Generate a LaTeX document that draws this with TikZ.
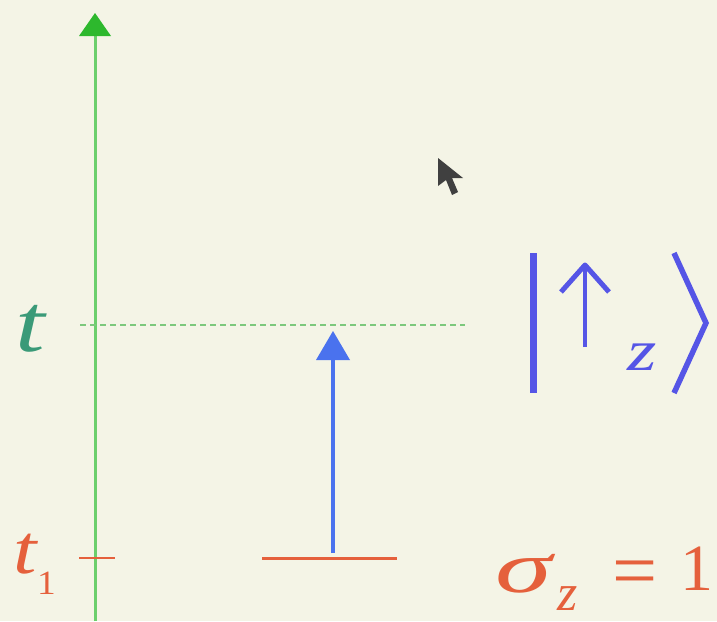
\documentclass[tikz,border=0pt]{standalone}
\usepackage{fontspec}
\setmainfont{Liberation Serif}
\definecolor{bg}{HTML}{F4F4E6}
\definecolor{axisgreen}{HTML}{6CCF6C}
\definecolor{headgreen}{HTML}{2DB82D}
\definecolor{dashgreen}{HTML}{7CC87C}
\definecolor{tgreen}{HTML}{3A9A78}
\definecolor{redor}{HTML}{E5603C}
\definecolor{arrblue}{HTML}{4A72EE}
\definecolor{ketblue}{HTML}{5555E6}
\tikzset{
  lbl/.style={inner sep=0pt, anchor=base west},
}
\begin{document}
\begin{tikzpicture}[x=1pt,y=-1pt]
\fill[bg] (0,0) rectangle (717,621);
\useasboundingbox (0,0) rectangle (717,621);
% time axis
\coordinate (axbot) at (95,621);
\coordinate (axtop) at (95,35);
\draw[axisgreen, line width=3pt] (axbot) -- (axtop);
\fill[headgreen] (95,13) -- (111,36) -- (79,36) -- cycle;
% dashed time line
\coordinate (dl) at (80,325);
\coordinate (dr) at (465,325);
\draw[dashgreen, line width=1.6pt, dash pattern=on 6pt off 4pt] (dl) -- (dr);
% labels t and t1
\node[lbl, text=tgreen, font=\fontsize{82}{82}\selectfont\itshape] (tl) at (15,351) {\scalebox{1.3}[1]{t}};
\node[lbl, text=redor, font=\fontsize{70}{70}\selectfont\itshape] (t1) at (13,573) {\scalebox{1.2}[1]{t}};
\node[lbl, text=redor, font=\fontsize{34}{34}\selectfont] (t1s) at (37,594) {\scalebox{1.1}[1]{1}};
% tick
\coordinate (tka) at (79,558);
\coordinate (tkb) at (115,558);
\draw[redor, line width=2.4pt] (tka) -- (tkb);
% level line
\coordinate (lva) at (262,558);
\coordinate (lvb) at (397,558);
\draw[redor, line width=3pt] (lva) -- (lvb);
% blue arrow
\coordinate (ba) at (333,553);
\coordinate (bb) at (333,358);
\draw[arrblue, line width=3.5pt] (ba) -- (bb);
\fill[arrblue] (333,331) -- (350,360) -- (316,360) -- cycle;
% ket
\draw[ketblue, line width=7pt] (533,253) -- (533,393);
\draw[ketblue, line width=5.5pt, line join=miter] (674,253) -- (706,323) -- (674,393);
\draw[ketblue, line width=4.5pt] (585,347) -- (585,268);
\draw[ketblue, line width=5pt, line join=round] (561,292) -- (585,265) -- (609,292);
\node[lbl, text=ketblue, font=\fontsize{58}{58}\selectfont\itshape] (kz) at (627,370) {\scalebox{1.3}[1]{z}};
% sigma_z = 1
\node[lbl, text=redor, font=\fontsize{74}{74}\selectfont\itshape] (sig) at (495,592) {\scalebox{1.55}[1]{σ}};
\node[lbl, text=redor, font=\fontsize{52}{52}\selectfont\itshape] (sz) at (557,610) {z};
\node[lbl, text=redor, font=\fontsize{80}{80}\selectfont] (eq) at (612,597) {=};
\node[lbl, text=redor, font=\fontsize{66}{66}\selectfont] (one) at (680,590) {1};
% mouse cursor
\fill[black!75] (438,158) -- (438,186) -- (446,180) -- (452,195) -- (458,192) -- (452,178) -- (463,178) -- cycle;
\end{tikzpicture}
\end{document}
